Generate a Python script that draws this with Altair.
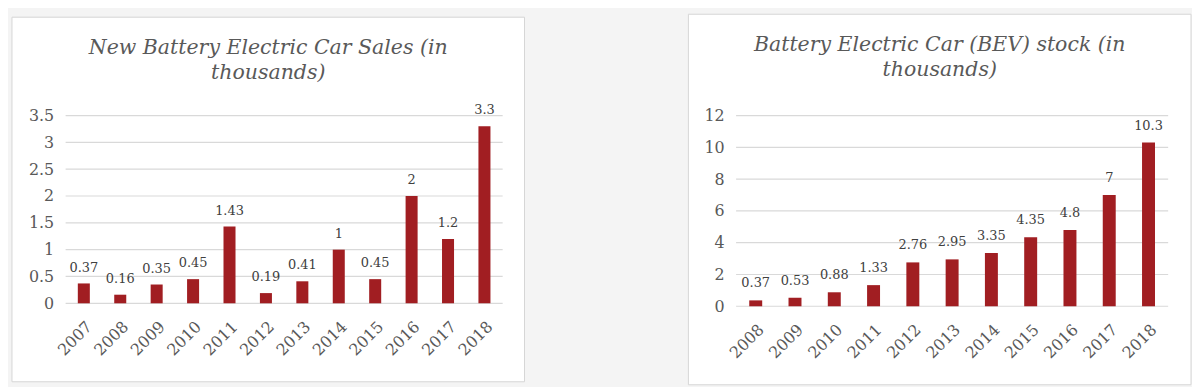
import altair as alt
import pandas as pd

# ---- data ----
sales_years = ["2007", "2008", "2009", "2010", "2011", "2012",
               "2013", "2014", "2015", "2016", "2017", "2018"]
sales_values = [0.37, 0.16, 0.35, 0.45, 1.43, 0.19, 0.41, 1, 0.45, 2, 1.2, 3.3]
sales_ticks = [0, 0.5, 1, 1.5, 2, 2.5, 3, 3.5]
sales_title = ["New Battery Electric Car Sales (in", "thousands)"]

stock_years = ["2008", "2009", "2010", "2011", "2012", "2013",
               "2014", "2015", "2016", "2017", "2018"]
stock_values = [0.37, 0.53, 0.88, 1.33, 2.76, 2.95, 3.35, 4.35, 4.8, 7, 10.3]
stock_ticks = [0, 2, 4, 6, 8, 10, 12]
stock_title = ["Battery Electric Car (BEV) stock (in", "thousands)"]

BAR = "#A11E22"
GRID = "#d9d9d9"
AXIS_TXT = "#595959"
LABEL_TXT = "#404040"
FONT = "DejaVu Serif"


def panel(years, values, ticks, title, w, h, box, title_offset, label_dy):
    df = pd.DataFrame({"year": years, "value": values})
    gdf = pd.DataFrame({"value": ticks})
    yscale = alt.Scale(domain=[ticks[0], ticks[-1]], nice=False, zero=True)

    x_enc = alt.X(
        "year:N", sort=None, title=None,
        scale=alt.Scale(paddingInner=0.67, paddingOuter=0.335),
        axis=alt.Axis(labelAngle=315, labelAlign="right", labelBaseline="top",
                      labelPadding=15, labelFont=FONT, labelFontSize=16,
                      labelColor=AXIS_TXT, domain=False, ticks=False,
                      grid=False, zindex=1, labelOverlap=False),
    )
    y_enc = alt.Y(
        "value:Q", title=None, scale=yscale,
        axis=alt.Axis(values=ticks, format="~g", labelFont=FONT,
                      labelFontSize=16, labelColor=AXIS_TXT, labelPadding=12,
                      domain=False, ticks=False, grid=False, zindex=1),
    )

    frame = alt.Chart(alt.Data(values=[{"k": 0}])).mark_rect(
        fill="white", stroke="#d6d6d6", strokeWidth=1
    ).encode(
        x=alt.value(box[0]), x2=alt.value(box[1]),
        y=alt.value(box[2]), y2=alt.value(box[3]),
    )
    grid = alt.Chart(gdf).mark_rule(color=GRID, strokeWidth=1.2).encode(y=y_enc)
    bars = alt.Chart(df).mark_bar(color=BAR).encode(x=x_enc, y=y_enc)
    labels = alt.Chart(df).mark_text(
        baseline="alphabetic", dy=label_dy, font=FONT, fontSize=13,
        color=LABEL_TXT,
    ).encode(x=x_enc, y=y_enc, text=alt.Text("value:Q", format="~g"))

    return alt.layer(frame, grid, bars, labels).properties(
        width=w, height=h,
        title=alt.TitleParams(
            text=title, font=FONT, fontStyle="italic", fontWeight="normal",
            fontSize=20.6, color=AXIS_TXT, anchor="middle", frame="bounds",
            baseline="alphabetic", lineHeight=25, offset=title_offset,
        ),
    )


left = panel(sales_years, sales_values, sales_ticks, sales_title,
             440, 189, (-54, 462, -99, 268), -83, -12)
right = panel(stock_years, stock_values, stock_ticks, stock_title,
              435, 192, (-48, 458, -102, 271), -83, -13)

chart = alt.hconcat(left, right, spacing=163).properties(
    padding={"left": 3, "top": 4, "right": 0, "bottom": 0},
    background="#f4f4f4",
).configure_view(stroke=None)

chart.save("out.html", embed_options={"renderer": "svg", "actions": False})
